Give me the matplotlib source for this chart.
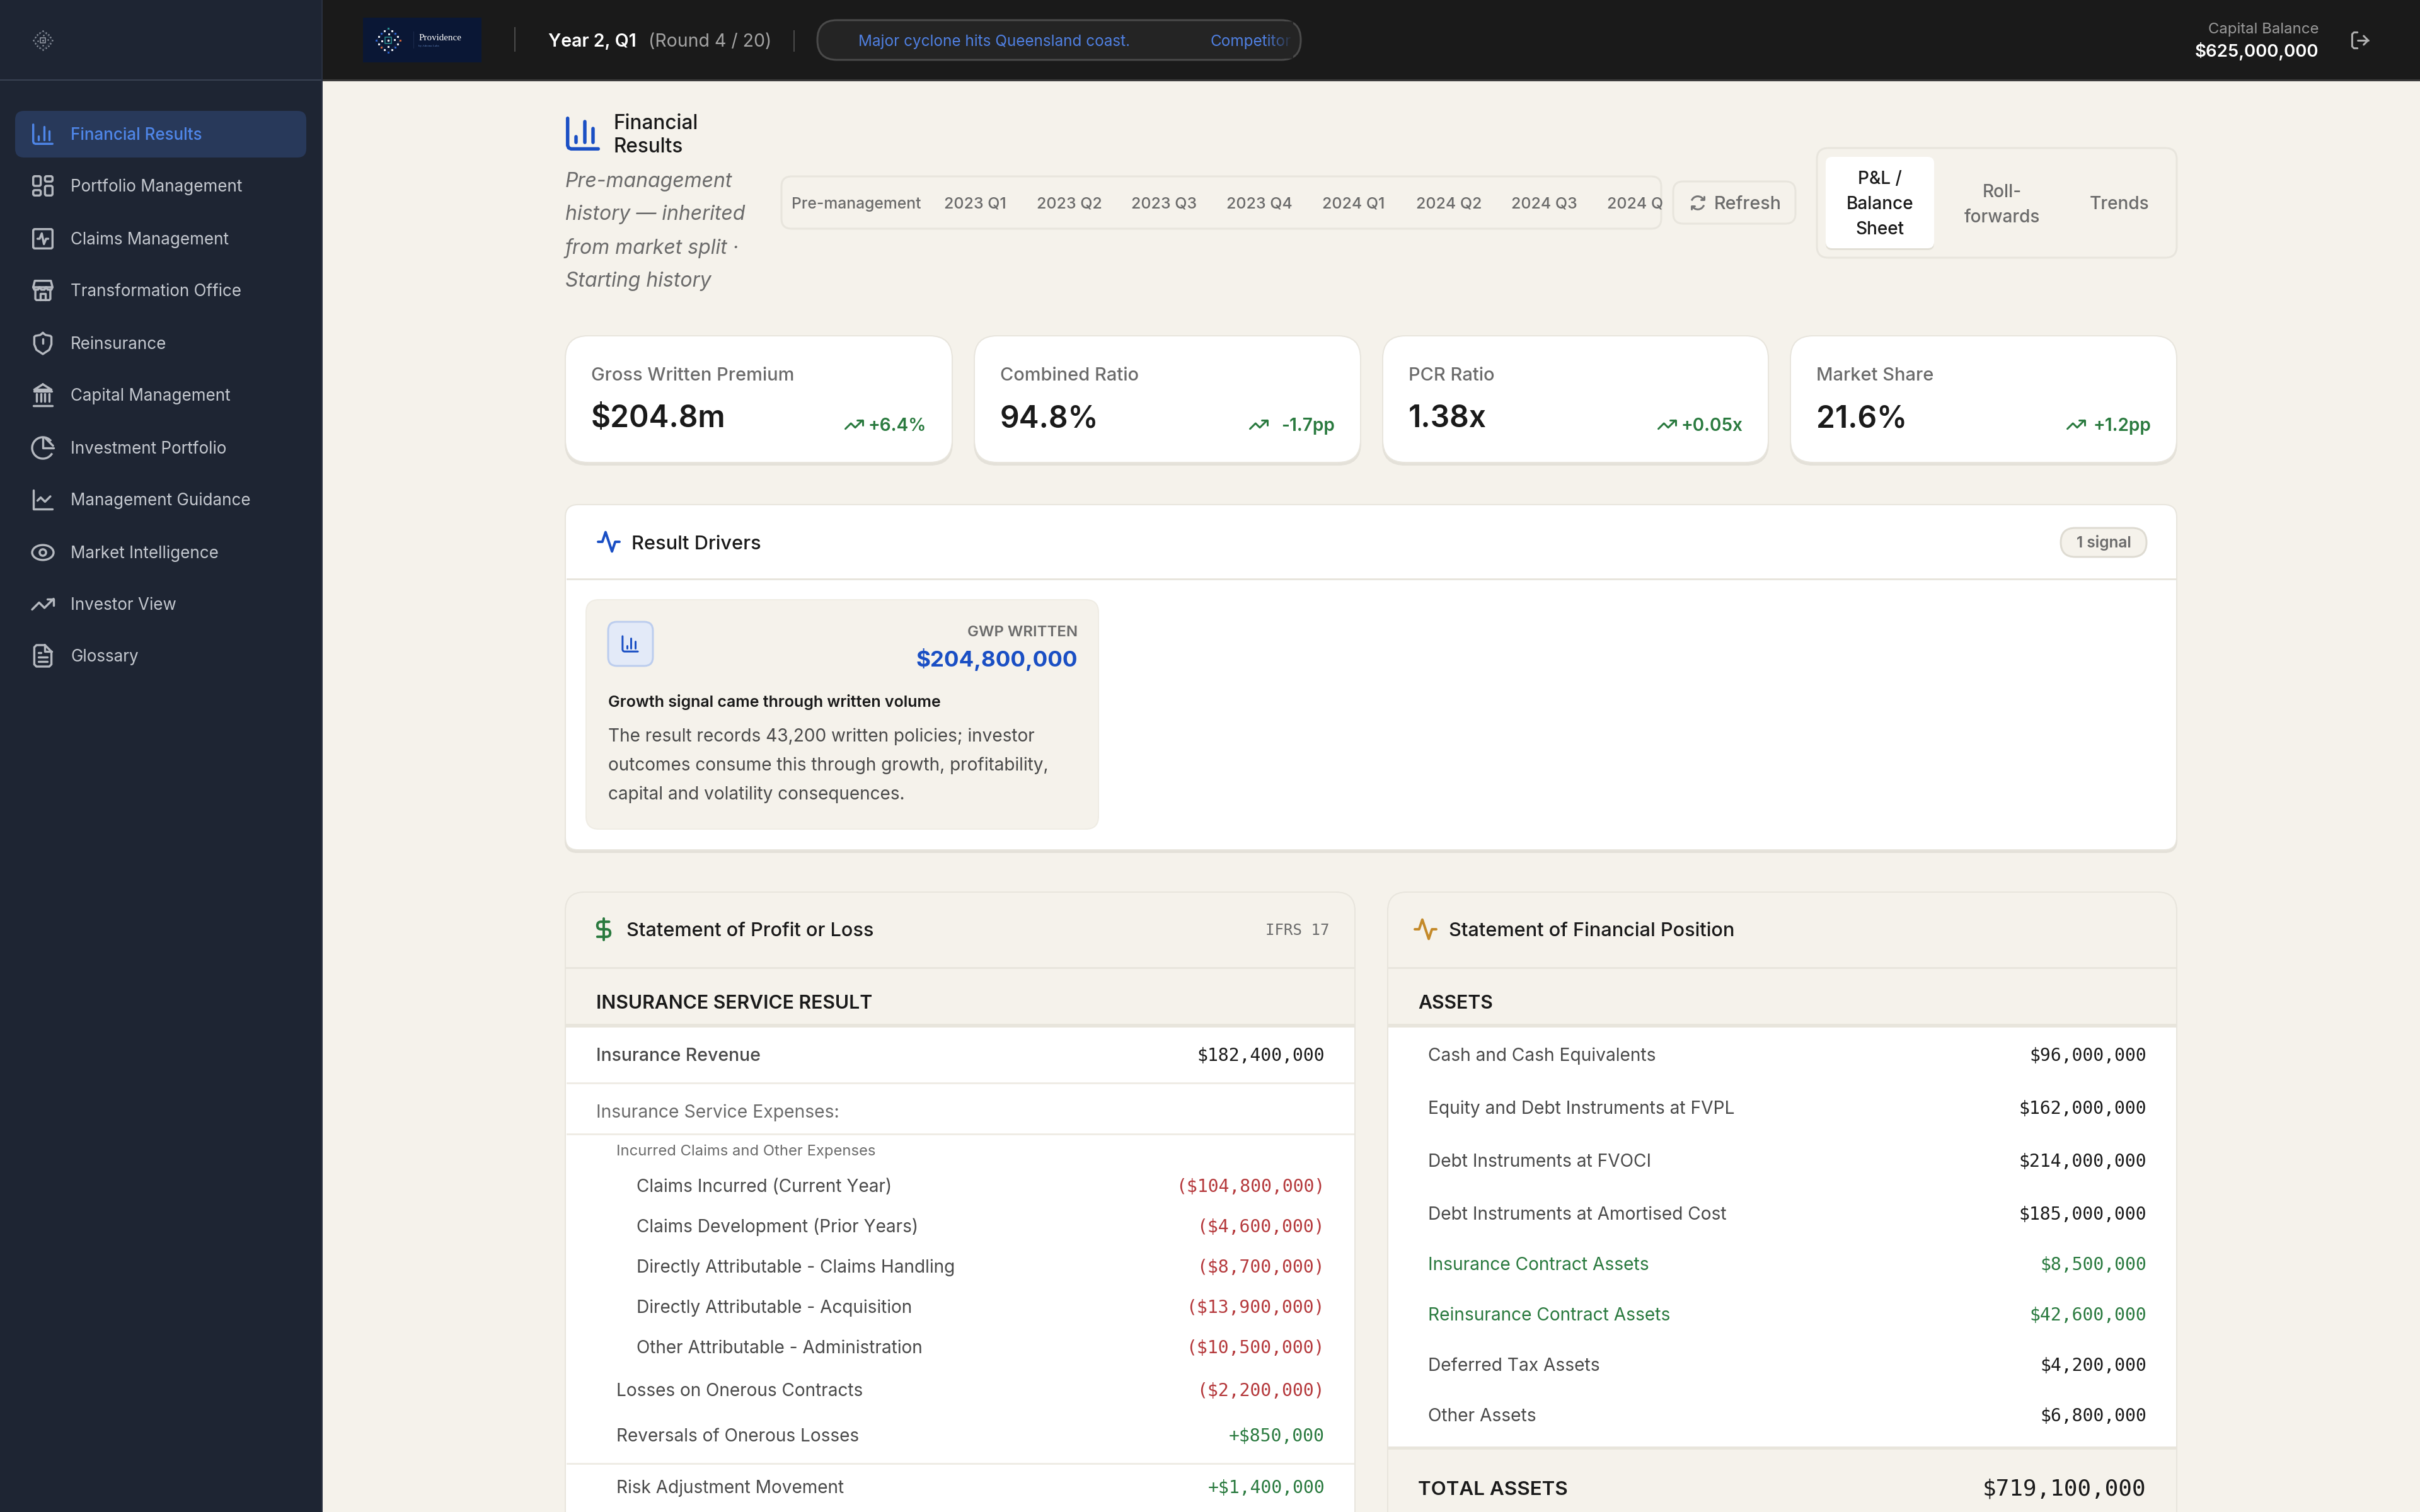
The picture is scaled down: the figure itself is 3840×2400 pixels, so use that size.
import matplotlib
matplotlib.use("Agg")
import numpy as np
import matplotlib.pyplot as plt
from matplotlib.patches import FancyBboxPatch, Rectangle, Circle, Arc, Ellipse, Polygon, PathPatch
from matplotlib.path import Path

# ---------- data ----------
nav_items = ["Financial Results", "Portfolio Management", "Claims Management", "Transformation Office",
             "Reinsurance", "Capital Management", "Investment Portfolio", "Management Guidance",
             "Market Intelligence", "Investor View", "Glossary"]
nav_icons = ["bars", "dash", "sqact", "store", "shield", "bank", "pie", "line", "eye", "trend", "file"]
period_tabs = ["2023 Q1", "2023 Q2", "2023 Q3", "2023 Q4", "2024 Q1", "2024 Q2", "2024 Q3"]
kpi_labels = ["Gross Written Premium", "Combined Ratio", "PCR Ratio", "Market Share"]
kpi_values = ["$204.8m", "94.8%", "1.38x", "21.6%"]
kpi_deltas = ["+6.4%", "-1.7pp", "+0.05x", "+1.2pp"]
pl_labels = ["Insurance Revenue", "Insurance Service Expenses:", "Incurred Claims and Other Expenses",
             "Claims Incurred (Current Year)", "Claims Development (Prior Years)",
             "Directly Attributable - Claims Handling", "Directly Attributable - Acquisition",
             "Other Attributable - Administration", "Losses on Onerous Contracts",
             "Reversals of Onerous Losses", "Risk Adjustment Movement"]
pl_values = ["$182,400,000", "", "", "($104,800,000)", "($4,600,000)", "($8,700,000)", "($13,900,000)",
             "($10,500,000)", "($2,200,000)", "+$850,000", "+$1,400,000"]
bs_labels = ["Cash and Cash Equivalents", "Equity and Debt Instruments at FVPL", "Debt Instruments at FVOCI",
             "Debt Instruments at Amortised Cost", "Insurance Contract Assets", "Reinsurance Contract Assets",
             "Deferred Tax Assets", "Other Assets"]
bs_values = ["$96,000,000", "$162,000,000", "$214,000,000", "$185,000,000", "$8,500,000", "$42,600,000",
             "$4,200,000", "$6,800,000"]
total_assets = "$719,100,000"

# ---------- palette ----------
BG = "#f5f2eb"; SIDE = "#1e2533"; TOP = "#1a1a1a"; BORDER = "#e8e5dd"; BLUE = "#1a4fc4"
GREEN = "#2a7a3f"; RED = "#b5393c"; INK = "#1a1a1a"; MID = "#4a4a4a"; MUTE = "#6b6b6b"
SANS = "Inter"; MONO = "DejaVu Sans Mono"

fig = plt.figure(figsize=(19.2, 12), dpi=200)
ax = fig.add_axes([0, 0, 1, 1])
ax.set_xlim(0, 3840); ax.set_ylim(2400, 0); ax.axis("off")
PT = 72 / 200


def T(x, yc, s, size, color=INK, ha="left", weight="normal", style="normal", family=SANS, clip=None, z=5):
    t = ax.text(x, yc + 0.36 * size, s, fontsize=size * PT, color=color, ha=ha, va="baseline",
                fontweight=weight, fontstyle=style, family=family, zorder=z)
    if clip is not None:
        t.set_clip_path(clip)
    return t


def RR(x0, y0, x1, y1, r, fc, ec="none", lw=0.0, z=1):
    p = FancyBboxPatch((x0 + r, y0 + r), x1 - x0 - 2 * r, y1 - y0 - 2 * r,
                       boxstyle=f"round,pad={r},rounding_size={r}", fc=fc, ec=ec, lw=lw * PT, zorder=z,
                       mutation_aspect=1)
    ax.add_patch(p)
    return p


def R(x0, y0, x1, y1, fc, z=1):
    ax.add_patch(Rectangle((x0, y0), x1 - x0, y1 - y0, fc=fc, ec="none", zorder=z))


def HL(x0, x1, y, c=BORDER, w=3, z=3):
    R(x0, y - w / 2, x1, y + w / 2, c, z)


def shadowed(x0, y0, x1, y1, r, fc="white"):
    RR(x0 - 1, y0 + 4, x1 + 1, y1 + 5, r, "#e4e1d9", z=1)
    RR(x0, y0, x1, y1, r, fc, ec=BORDER, lw=2, z=2)


ICONS = {
    "bars": [[(3, 3), (3, 19), (3.6, 20.4), (5, 21), (21, 21)], [(18, 17), (18, 9)], [(13, 17), (13, 5)], [(8, 17), (8, 14)]],
    "dash": [("r", 3, 3, 7, 9), ("r", 14, 3, 7, 5), ("r", 14, 12, 7, 9), ("r", 3, 16, 7, 5)],
    "sqact": [("r", 3, 3, 18, 18), [(17, 12), (15, 12), (13, 17), (11, 7), (9, 12), (7, 12)]],
    "store": [[(3, 9), (4.5, 3), (19.5, 3), (21, 9)], [(3, 9), (4, 11.3), (7.5, 11.3), (9, 9), (10.5, 11.3), (13.5, 11.3), (15, 9), (16.5, 11.3), (20, 11.3), (21, 9), (3, 9)],
              [(5, 11.3), (5, 20), (6, 21), (18, 21), (19, 20), (19, 11.3)], [(9.5, 21), (9.5, 15), (14.5, 15), (14.5, 21)]],
    "shield": [[(12, 2.2), (14.5, 4.2), (19, 5), (20, 6), (20, 13), (18, 18), (12, 22), (6, 18), (4, 13), (4, 6), (5, 5), (9.5, 4.2), (12, 2.2)],
               [(12, 8), (12, 12)], [(12, 16), (12.01, 16)]],
    "bank": [[(3, 22), (21, 22)], [(6, 18), (6, 11)], [(10, 18), (10, 11)], [(14, 18), (14, 11)], [(18, 18), (18, 11)],
             [(12, 2), (20, 7), (4, 7), (12, 2)], [(4, 8.5), (20, 8.5)]],
    "pie": [("a", 12, 12, 10, 30, 320), [(12, 2), (12, 12), (22, 12)], [(14, 2.5), (21.5, 10)]],
    "line": [[(3, 3), (3, 21), (21, 21)], [(7, 13), (10, 10), (14, 14), (19, 9)]],
    "eye": [("e", 12, 12, 20, 14), ("c", 12, 12, 3)],
    "trend": [[(22, 7), (13.5, 15.5), (8.5, 10.5), (2, 17)], [(16, 7), (22, 7), (22, 13)]],
    "file": [[(14, 2), (6, 2), (4, 4), (4, 20), (6, 22), (18, 22), (20, 20), (20, 8), (14, 2)], [(14, 2), (14, 8), (20, 8)],
             [(16, 13), (8, 13)], [(16, 17), (8, 17)], [(10, 9), (8, 9)]],
    "act": [[(22, 12), (18, 12), (15, 21), (9, 3), (6, 12), (2, 12)]],
    "usd": [[(12, 2), (12, 22)], ("s",)],
    "refresh": [("a", 12, 12, 9, 200, 330), ("a", 12, 12, 9, 20, 150), [(21, 3), (21, 8), (16, 8)], [(3, 21), (3, 16), (8, 16)]],
    "logout": [[(9, 21), (5, 21), (3, 19), (3, 5), (5, 3), (9, 3)], [(16, 17), (21, 12), (16, 7)], [(21, 12), (9, 12)]],
}


def icon(name, cx, cy, u, color, lw):
    X = lambda v: cx + (v - 12) * u
    Y = lambda v: cy + (v - 12) * u
    kw = dict(color=color, lw=lw * PT, solid_capstyle="round", solid_joinstyle="round", zorder=6)
    pk = dict(fc="none", ec=color, lw=lw * PT, zorder=6)
    for e in ICONS[name]:
        if isinstance(e, list):
            ax.plot([X(p[0]) for p in e], [Y(p[1]) for p in e], **kw)
        elif e[0] == "r":
            _, a, b, w, h = e
            RR(X(a), Y(b), X(a + w), Y(b + h), 1.5 * u, "none", ec=color, lw=lw, z=6)
        elif e[0] == "c":
            ax.add_patch(Circle((X(e[1]), Y(e[2])), e[3] * u, **pk))
        elif e[0] == "e":
            ax.add_patch(Ellipse((X(e[1]), Y(e[2])), e[3] * u, e[4] * u, **pk))
        elif e[0] == "a":
            ax.add_patch(Arc((X(e[1]), Y(e[2])), 2 * e[3] * u, 2 * e[3] * u, theta1=e[4], theta2=e[5], **pk))
        elif e[0] == "s":
            v = [(17, 5), (9.5, 5), (6, 5), (6, 8.5), (6, 12), (9.5, 12), (14.5, 12), (18, 12), (18, 15.5), (18, 19), (14.5, 19), (6, 19)]
            codes = [Path.MOVETO, Path.LINETO, Path.CURVE3, Path.CURVE3, Path.CURVE3, Path.CURVE3, Path.LINETO, Path.CURVE3, Path.CURVE3, Path.CURVE3, Path.CURVE3, Path.LINETO]
            ax.add_patch(PathPatch(Path([(X(a), Y(b)) for a, b in v], codes), capstyle="round", **pk))


# logo dots: offsets in px of the 19 px radius top-bar mark
LOGO_W = [(-5.7, -14.7), (5.7, -14.7), (-15, -5.7), (15, -5.7), (-15, 5.7), (15, 5.7), (-5.7, 15), (5.7, 15),
          (0.7, -9.7), (10, -1), (-9.7, 1), (0, 9.7)]
LOGO_B = [(-11.3, -11), (11.3, -11), (11.3, 11.3), (-19, 0), (0, 19)]
LOGO_O = [(19, 0), (-11.3, 11.3)]
LOGO_T = [(0, -19)]


def logo(cx, cy, k, mono=None, dot=3.0, lat="#1c2b4d"):
    c_w = mono or "#e6e9f0"; c_b = mono or "#2a5fc8"; c_o = mono or "#c8603a"; c_t = mono or "#2a8f8f"
    tips = [(0, -19), (19, 0), (0, 19), (-19, 0)]
    for a, b in zip(tips, tips[1:] + tips[:1]):
        ax.plot([cx + a[0] * k, cx + b[0] * k], [cy + a[1] * k, cy + b[1] * k], color=lat, lw=1 * PT, zorder=5)
    for pts, c in [(LOGO_W, c_w), (LOGO_B, c_b), (LOGO_O, c_o), (LOGO_T, c_t)]:
        ax.scatter([cx + p[0] * k for p in pts], [cy + p[1] * k for p in pts], s=(dot * PT) ** 2, color=c, lw=0,
                   marker="s" if mono is None else "o", zorder=6)
    ax.add_patch(Rectangle((cx - 5 * k, cy - 5 * k), 10 * k, 10 * k, fc="none", ec=mono or "#2a8f8f", lw=1.5 * PT, zorder=6))
    ax.scatter([cx], [cy], s=(dot * 1.2 * PT) ** 2, color=c_w, lw=0, zorder=6)


# ---------- background ----------
ax.add_patch(Rectangle((0, 0), 3840, 2400, fc=BG, ec="none", zorder=0))

# ---------- sidebar ----------
R(0, 0, 512, 2400, SIDE, 1)
HL(0, 512, 127, "#394252", 2, 2)
R(510, 0, 512, 2400, "#2a3140", 2)
logo(68, 64, 0.79, mono="#9aa0aa", dot=2.4, lat="#3a4252")
nav_y = [213, 295, 379, 461, 545, 627, 711, 793, 877, 959, 1041]
RR(24, 176, 486, 250, 14, "#28395a", z=2)
for i, (lab, ic, y) in enumerate(zip(nav_items, nav_icons, nav_y)):
    col = "#4f86e8" if i == 0 else "#c4c8cf"
    T(112, y, lab, 26, col, weight="medium" if i == 0 else "normal")
    icon(ic, 68, y, 1.7, "#4f86e8" if i == 0 else "#b4b8bf", 3.4)

# ---------- top bar ----------
R(512, 0, 3840, 126, TOP, 2)
HL(512, 3840, 127, "#3c3c3c", 3, 3)
R(576, 28, 764, 99, "#0a1735", 3)
logo(616, 64, 1.0)
R(655.5, 50, 657, 77, "#1c2b4d", 4)
T(665, 59, "Providence", 15, "white", family="Liberation Serif")
T(664, 72, "by Adeena Labs", 5, "#5c7fb8", family="Liberation Serif")
R(816, 43, 818, 82, "#4a4a4a", 3)
R(1259, 48, 1261, 82, "#4a4a4a", 3)
T(870, 64, "Year 2, Q1", 28.5, "white", weight="semibold")
T(1029, 64, "(Round 4 / 20)", 28.5, "#a3a3a3")
RR(1297, 32, 2064, 95, 31, "#242424", ec="#4a4a4a", lw=3, z=3)
T(1362, 64, "Major cyclone hits Queensland coast.", 24.3, "#4f7fe0")
clip_r = Rectangle((1300, 30), 750, 70, transform=ax.transData)
T(1920, 64, "Competitor", 24.3, "#4f7fe0", clip=clip_r)
for k in range(10):
    ax.add_patch(Rectangle((2012 + k * 4, 34), 4, 59, fc="#242424", ec="none", alpha=0.12 + k * 0.09, zorder=6))
T(3679, 44, "Capital Balance", 24, "#9a9a9a", ha="right")
T(3679, 80, "$625,000,000", 27.6, "white", ha="right", weight="semibold")
icon("logout", 3745, 64, 1.4, "#b0b0b0", 3)

# ---------- page header ----------
icon("bars", 925, 212, 2.7, BLUE, 5.5)
T(973, 194, "Financial", 31.5, INK, weight="medium")
T(973, 231, "Results", 31.5, INK, weight="medium")
for y, s in zip([285, 337, 391, 443], ["Pre-management", "history \u2014 inherited", "from market split \u00b7", "Starting history"]):
    T(897, y, s, 32, MUTE, style="italic")

RR(1240, 280, 2636, 363, 16, BG, ec=BORDER, lw=3, z=2)
clip_t = Rectangle((1240, 280), 1396, 83, transform=ax.transData)
T(1256, 322, "Pre-management", 24.7, MUTE, weight="medium")
for x, s in zip([1547, 1697, 1847, 1998, 2148, 2299, 2450], period_tabs):
    T(x, 322, s, 25, MUTE, ha="center", weight="medium")
T(2550, 322, "2024 Q", 25, MUTE, weight="medium", clip=clip_t)
RR(2655, 288, 2849, 355, 16, BG, ec=BORDER, lw=3, z=2)
icon("refresh", 2694, 322, 1.15, "#777777", 3)
T(2720, 322, "Refresh", 28.7, MUTE, weight="medium")

RR(2883, 235, 3454, 409, 18, BG, ec=BORDER, lw=3, z=2)
RR(2897, 252, 3069, 397, 10, "#e2dfd6", z=2)
RR(2897, 249, 3069, 394, 10, "white", z=3)
for y, s in zip([282, 322, 362], ["P&L /", "Balance", "Sheet"]):
    T(2983, y, s, 28, INK, ha="center", weight="medium")
for y, s in zip([303, 343], ["Roll-", "forwards"]):
    T(3177, y, s, 28, MUTE, ha="center", weight="medium")
T(3363, 322, "Trends", 28, MUTE, ha="center", weight="medium")

# ---------- KPI cards ----------
cards = [(897, 1511), (1546, 2159), (2194, 2806), (2841, 3454)]
delta_icon_x = [1355, 1997, 2645, 3294]
for (x0, x1), l, v, d, ix in zip(cards, kpi_labels, kpi_values, kpi_deltas, delta_icon_x):
    shadowed(x0, 533, x1, 734, 36)
    T(x0 + 41, 594, l, 29, MUTE, weight="medium")
    T(x0 + 41, 661, v, 48, INK, weight="semibold")
    T(x1 - 41, 674, d, 28, GREEN, ha="right", weight="semibold")
    icon("trend", ix, 674, 1.35, GREEN, 3)

# ---------- result drivers ----------
shadowed(897, 801, 3454, 1349, 20)
HL(899, 3453, 919, BORDER, 3)
icon("act", 966, 860, 1.7, BLUE, 4)
T(1002, 861, "Result Drivers", 30.8, INK, weight="medium")
RR(3270, 838, 3406, 884, 23, BG, ec="#dedbd2", lw=3, z=3)
T(3338, 860, "1 signal", 24.5, MUTE, ha="center", weight="semibold")
RR(930, 952, 1743, 1316, 20, BG, ec="#efece4", lw=2, z=3)
RR(965, 987, 1036, 1057, 14, "#e3eaf8", ec="#bccdee", lw=3, z=4)
icon("bars", 1000, 1022, 1.35, BLUE, 3)
T(1710, 1001, "GWP WRITTEN", 24, MUTE, ha="right", weight="semibold")
T(1710, 1045, "$204,800,000", 35, BLUE, ha="right", weight="bold")
T(965, 1113, "Growth signal came through written volume", 25, INK, weight="semibold")
for y, s in zip([1167, 1213, 1259], ["The result records 43,200 written policies; investor",
                                    "outcomes consume this through growth, profitability,",
                                    "capital and volatility consequences."]):
    T(965, y, s, 28, MID)

# ---------- statement panels ----------
for x0, x1 in [(897, 2150), (2202, 3454)]:
    RR(x0 - 1, 1419, x1 + 1, 2500, 30, "#e8e5dd", z=1)
    RR(x0, 1416, x1, 2500, 30, BG, ec=BORDER, lw=2, z=2)
    HL(x0 + 1, x1 - 1, 1536, BORDER, 3)
    R(x0 + 1, 1630, x1 - 1, 2400, "white", 2)
    HL(x0 + 1, x1 - 1, 1628, "#e8e5dc", 6)

# left: profit or loss
icon("usd", 958, 1475, 1.7, GREEN, 4)
T(994, 1475, "Statement of Profit or Loss", 30.7, INK, weight="medium")
T(2110, 1475, "IFRS 17", 24, MUTE, ha="right", family=MONO)
T(946, 1590, "INSURANCE SERVICE RESULT", 30.2, INK, weight="semibold")
pl_y = [1674, 1764, 1825, 1882, 1946, 2010, 2074, 2138, 2206, 2278, 2360]
pl_x = [946, 946, 978, 1010, 1010, 1010, 1010, 1010, 978, 978, 978]
pl_sz = [28.5, 28.3, 23.8, 28, 28, 28, 28, 28, 28, 28, 28]
pl_col = [MID, MUTE, MUTE, MID, MID, MID, MID, MID, MID, MID, MID]
pl_w = ["medium"] + ["normal"] * 10
for lab, val, y, x, sz, c, w in zip(pl_labels, pl_values, pl_y, pl_x, pl_sz, pl_col, pl_w):
    T(x, y, lab, sz, c, weight=w)
    if val:
        vc = RED if val.startswith("(") else GREEN if val.startswith("+") else INK
        T(2102, y, val, 28.2, vc, ha="right", family=MONO)
for y in [1719, 1800, 2323]:
    HL(899, 2149, y, "#efece5", 3)

# right: financial position
icon("act", 2262, 1475, 1.7, "#c48a2a", 4)
T(2299, 1475, "Statement of Financial Position", 30.7, INK, weight="medium")
T(2250, 1590, "ASSETS", 30.2, INK, weight="semibold")
bs_y = [1674, 1758, 1842, 1926, 2006, 2086, 2166, 2246]
for i, (lab, val, y) in enumerate(zip(bs_labels, bs_values, bs_y)):
    green = i in (4, 5)
    T(2266, y, lab, 28.2, GREEN if green else MID)
    T(3406, y, val, 28.2, GREEN if green else INK, ha="right", family=MONO)
R(2203, 2298, 3453, 2400, BG, 3)
HL(2203, 3453, 2298, "#e8e5dc", 5, 4)
T(2250, 2362, "TOTAL ASSETS", 31.4, INK, weight="semibold")
T(3405, 2361, total_assets, 36, INK, ha="right", family=MONO)

fig.savefig("out.png", dpi=200, facecolor=BG)
